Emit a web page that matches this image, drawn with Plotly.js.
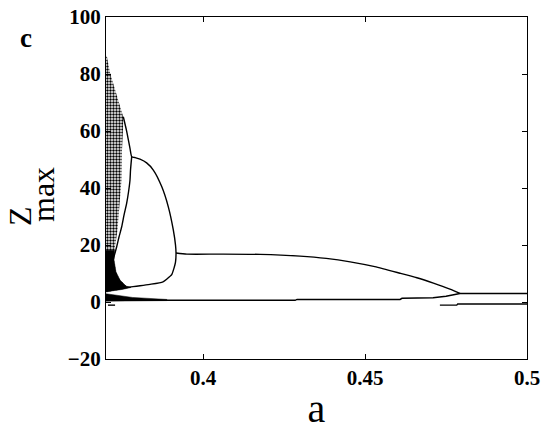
<!DOCTYPE html>
<html>
<head>
<meta charset="utf-8">
<script src="https://cdn.plot.ly/plotly-3.0.1.min.js"></script>
<style>
  html, body { margin: 0; padding: 0; background: #fff; }
  #chart { width: 550px; height: 431px; }
</style>
</head>
<body>
<div id="chart"></div>
<script>
// ---- data (a, z_max) ----
// chaotic (stippled) band outline
const chaosX = [0.3700, 0.37031, 0.37124, 0.37278, 0.37432, 0.37534, 0.37525, 0.37494, 0.37479, 0.37417, 0.37355, 0.37278, 0.37247, 0.37309, 0.37432, 0.37618, 0.37494, 0.37185, 0.3700];
const chaosY = [86.5, 86.0, 80.4, 74.4, 68.4, 64.9, 60.4, 53.3, 42.8, 32.3, 25.3, 19.3, 14.7, 10.5, 7.7, 5.6, 4.4, 3.9, 3.5];
// dense (black) part of the chaotic band
const denseX = [0.3700, 0.37262, 0.37247, 0.37309, 0.37432, 0.37618, 0.37772, 0.37494, 0.37185, 0.3700];
const denseY = [18.2, 18.2, 14.7, 10.5, 7.7, 5.6, 5.1, 4.4, 3.9, 3.5];
// black wedge near z = 0
const wedgeX = [0.3700, 0.3782, 0.3888, 0.3888, 0.3700];
const wedgeY = [2.9, 1.6, 0.9, 0.5, 0.3];
// outer arc + big loop (upper part, tip, lower part)
const loopX = [0.37534, 0.37639, 0.37741, 0.37794, 0.37890, 0.38050, 0.38255, 0.38461, 0.38720, 0.38924, 0.39078, 0.39146, 0.39162, 0.39146, 0.39100, 0.39029, 0.38884, 0.38760, 0.38359, 0.38050, 0.37834, 0.37525];
const loopY = [65.0, 59.9, 53.9, 51.0, 50.7, 50.1, 48.8, 46.3, 40.5, 33.4, 25.3, 20.0, 17.2, 14.0, 11.9, 9.6, 8.1, 7.1, 6.2, 5.7, 5.4, 4.9];
// inner arc
const innerX = [0.37794, 0.37757, 0.37741, 0.37695, 0.37639, 0.37556, 0.37485, 0.37401, 0.37330, 0.37216];
const innerY = [51.0, 46.3, 42.8, 38.6, 34.7, 30.5, 26.4, 22.8, 19.4, 14.7];
// long period-2 branch: upper
const upperX = [0.39162, 0.3950, 0.4050, 0.4176, 0.4299, 0.4380, 0.4454, 0.4530, 0.4608, 0.4660, 0.4711, 0.4762, 0.4793];
const upperY = [17.2, 16.8, 16.8, 16.7, 16.1, 15.3, 14.1, 12.4, 10.1, 8.5, 6.6, 4.5, 3.0];
// long period-2 branch: lower
const lowerX = [0.3700, 0.4284, 0.4290, 0.4608, 0.4614, 0.4710, 0.4750, 0.4775, 0.4793];
const lowerY = [0.6, 0.6, 0.9, 0.9, 1.3, 1.5, 2.0, 2.5, 3.0];
// period-1 after the merge
const tailX = [0.4793, 0.5000];
const tailY = [3.0, 3.0];
// second short branch below zero
const tailLowX = [0.4731, 0.4783, 0.4786, 0.5000];
const tailLowY = [-1.1, -1.1, -0.7, -0.7];
// short dash at left
const dashX = [0.3706, 0.3728];
const dashY = [-1.1, -1.1];

const xTicks = [0.4, 0.45, 0.5];
const xTickText = ['0.4', '0.45', '0.5'];
const yTicks = [-20, 0, 20, 40, 60, 80, 100];

const serif = 'Liberation Serif, Times New Roman, serif';
const lineStyle = {color: '#000', width: 1.4};
const smoothLine = {color: '#000', width: 1.4, shape: 'spline', smoothing: 0.6};

const traces = [
  {x: chaosX, y: chaosY, mode: 'lines', fill: 'toself', line: {width: 0, color: 'rgba(0,0,0,0)'},
   fillcolor: 'white',
   fillpattern: {shape: '.', fgcolor: '#000', bgcolor: '#fff', size: 3, solidity: 0.5}},
  {x: denseX, y: denseY, mode: 'lines', fill: 'toself', line: {width: 0.5, color: '#000'}, fillcolor: '#000'},
  {x: wedgeX, y: wedgeY, mode: 'lines', fill: 'toself', line: {width: 0.5, color: '#000'}, fillcolor: '#000'},
  {x: loopX, y: loopY, mode: 'lines', line: smoothLine},
  {x: innerX, y: innerY, mode: 'lines', line: smoothLine},
  {x: upperX, y: upperY, mode: 'lines', line: smoothLine},
  {x: lowerX, y: lowerY, mode: 'lines', line: lineStyle},
  {x: tailX, y: tailY, mode: 'lines', line: lineStyle},
  {x: tailLowX, y: tailLowY, mode: 'lines', line: lineStyle},
  {x: dashX, y: dashY, mode: 'lines', line: lineStyle}
];

const axisCommon = {
  showline: true, linecolor: '#000', linewidth: 1, mirror: 'ticks',
  ticks: 'inside', ticklen: 5, tickwidth: 1, tickcolor: '#000',
  showgrid: false, zeroline: false,
  tickfont: {family: serif, size: 21, color: '#000', weight: 'bold'}
};

const layout = {
  width: 550, height: 431,
  margin: {l: 106, r: 23, t: 17, b: 72},
  paper_bgcolor: '#fff', plot_bgcolor: '#fff',
  showlegend: false,
  xaxis: Object.assign({}, axisCommon, {
    range: [0.37, 0.5], tickvals: xTicks, ticktext: xTickText,
    title: {text: 'a', font: {family: serif, size: 40, color: '#000'}, standoff: 4}
  }),
  yaxis: Object.assign({}, axisCommon, {
    range: [-20, 100], tickvals: yTicks
  }),
  annotations: [
    {text: 'Z', xref: 'paper', yref: 'paper', x: (20 - 106) / 421, y: (359 - 216) / 342,
     xanchor: 'center', yanchor: 'middle', textangle: -90, showarrow: false,
     font: {family: serif, size: 32, color: '#000'}},
    {text: 'max', xref: 'paper', yref: 'paper', x: (43 - 106) / 421, y: (359 - 195) / 342,
     xanchor: 'center', yanchor: 'middle', textangle: -90, showarrow: false,
     font: {family: serif, size: 32, color: '#000'}},
    {text: '<b>c</b>', xref: 'paper', yref: 'paper', x: (26 - 106) / 421, y: (359 - 38) / 342,
     xanchor: 'center', yanchor: 'middle', showarrow: false,
     font: {family: serif, size: 27, color: '#000'}}
  ]
};

Plotly.newPlot('chart', traces, layout, {displayModeBar: false, staticPlot: true});
</script>
</body>
</html>
